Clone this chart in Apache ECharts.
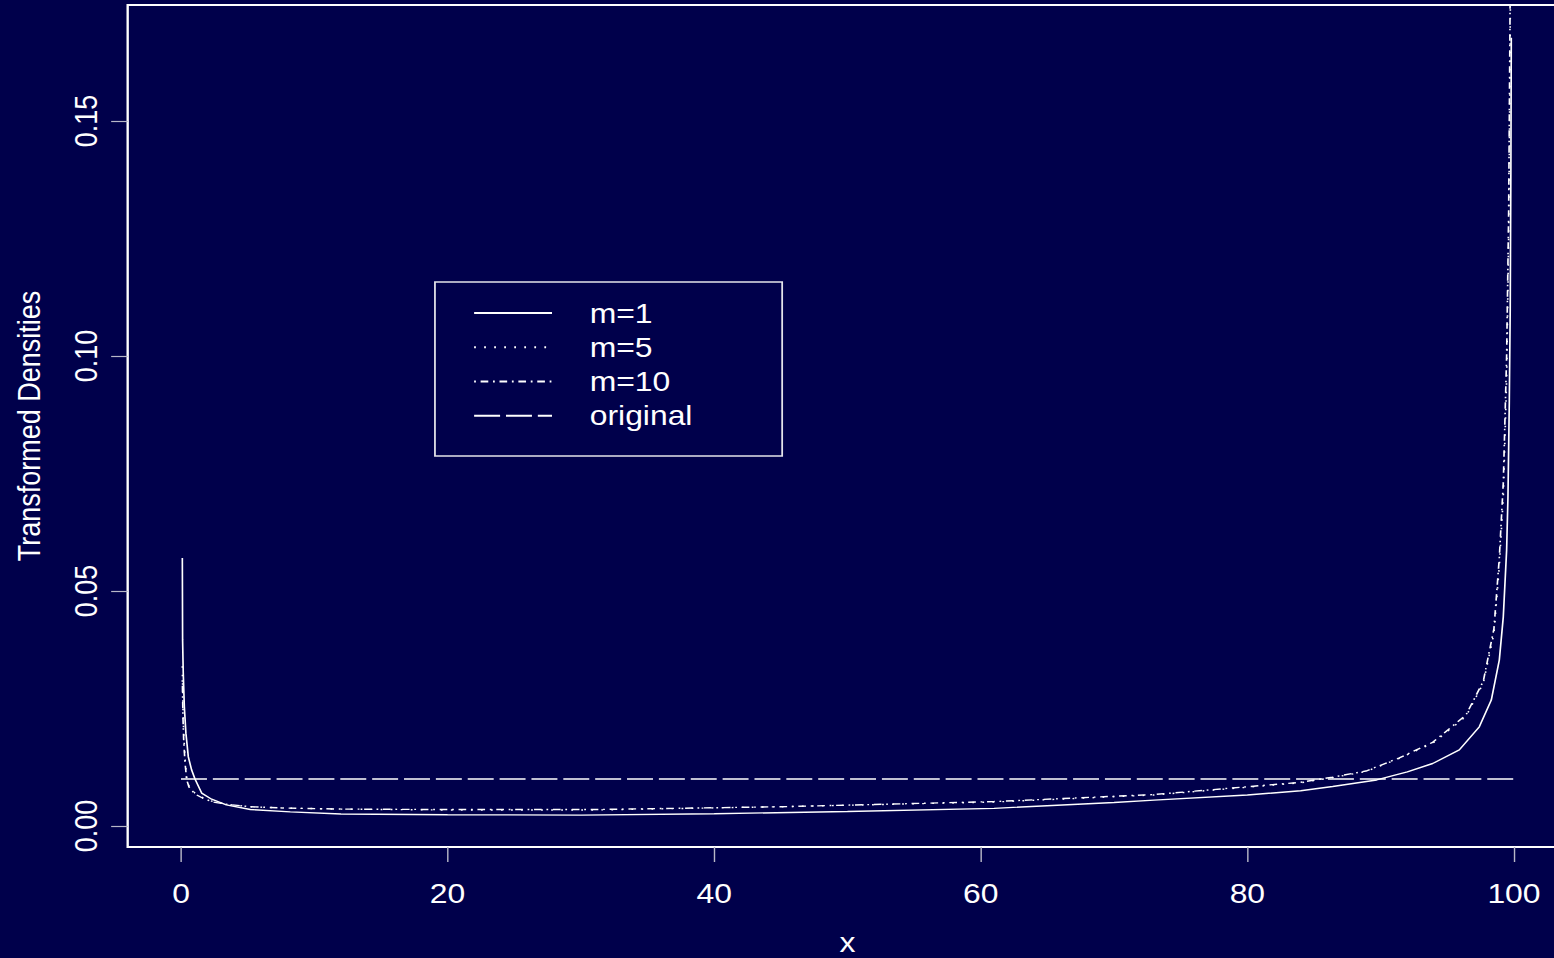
<!DOCTYPE html>
<html>
<head>
<meta charset="utf-8">
<title>Transformed Densities</title>
<script src="https://cdn.jsdelivr.net/npm/echarts@6/dist/echarts.min.js"></script>
<style>
  html, body { margin: 0; padding: 0; background: #00004b; overflow: hidden; width: 1554px; height: 958px; }
  /* the plot is laid out on a narrower canvas and widened horizontally;
     the plot frame runs past the right edge of the page */
  #chart { width: 1340px; height: 958px; transform: scaleX(1.18); transform-origin: 0 0; }
</style>
</head>
<body>
<div id="chart"></div>
<script>
// axis ticks
const xTicks = [0, 20, 40, 60, 80, 100];
const yTicks = [0, 0.05, 0.10, 0.15];

// legend / series names
const seriesNames = ['m=1', 'm=5', 'm=10', 'original'];

// m = 1 curve
const xM1 = [0.1, 0.12, 0.17, 0.25, 0.37, 0.55, 0.8, 1.05, 1.55, 2.3, 3.4, 5.2, 8.2, 12, 20, 30, 40, 50, 61, 70, 73, 80, 84, 86.4, 89.7, 92, 93.9, 95.9, 97.4, 98.3, 98.9, 99.2, 99.45, 99.55, 99.65, 99.72, 99.77, 99.8];
const yM1 = [0.0570, 0.0396, 0.0325, 0.0254, 0.0197, 0.0147, 0.0119, 0.0100, 0.0070, 0.0057, 0.0045, 0.0035, 0.0030, 0.00255, 0.0024, 0.00232, 0.0026, 0.0031, 0.00376, 0.0050, 0.0055, 0.0066, 0.0075, 0.0084, 0.0098, 0.0115, 0.0133, 0.0162, 0.0211, 0.0268, 0.0353, 0.0445, 0.0587, 0.070, 0.090, 0.110, 0.140, 0.1677];

// m = 5 and m = 10 curves share the same x grid
const xMulti = [0.1, 0.15, 0.2, 0.3, 0.43, 0.6, 1.05, 1.65, 2.4, 3.5, 5.2, 8, 12, 20, 31, 45, 61, 73, 84, 86.4, 88.9, 91.4, 93.9, 96.4, 97.7, 98.5, 98.9, 99.2, 99.45, 99.6, 99.7, 99.8];
const yM5 = [0.034, 0.025, 0.020, 0.0145, 0.0100, 0.0085, 0.0070, 0.0060, 0.0052, 0.0046, 0.0041, 0.0038, 0.0036, 0.0034, 0.0034, 0.0041, 0.0051, 0.0066, 0.0092, 0.0103, 0.0116, 0.0144, 0.0176, 0.0233, 0.0304, 0.041, 0.0552, 0.070, 0.095, 0.125, 0.16, 0.21];
const yM10 = [0.031, 0.023, 0.0185, 0.0135, 0.0098, 0.0083, 0.0068, 0.0059, 0.0051, 0.0046, 0.0041, 0.0038, 0.0036, 0.0035, 0.0035, 0.0041, 0.0052, 0.0067, 0.0093, 0.0104, 0.0117, 0.0145, 0.0178, 0.0236, 0.0308, 0.042, 0.057, 0.073, 0.10, 0.13, 0.17, 0.22];

// original (uniform) density
const xOrig = [0, 100];
const yOrig = [0.01, 0.01];

const zip = (xs, ys) => xs.map((x, i) => [x, ys[i]]);

const FONT = '"Liberation Sans", Arial, Helvetica, sans-serif';
const FG = '#ffffff';
const TICK = '#b8b8c8';

const chart = echarts.init(document.getElementById('chart'), null, { renderer: 'svg' });

function lineSeries(name, data, dash) {
  return {
    name: name,
    type: 'line',
    data: data,
    symbol: 'none',
    showSymbol: false,
    clip: true,
    animation: false,
    silent: true,
    lineStyle: { color: FG, width: 1.4, type: dash, cap: 'butt' },
    itemStyle: { color: FG }
  };
}

chart.setOption({
  backgroundColor: '#00004b',
  animation: false,
  textStyle: { fontFamily: FONT, color: FG },
  grid: {
    left: 108.2, top: 5, width: 1220, height: 842,
    show: true, borderColor: FG, borderWidth: 2, backgroundColor: 'transparent',
    containLabel: false,
    outerBoundsMode: 'none'
  },
  xAxis: {
    type: 'value',
    min: -4, max: 104,
    name: 'x',
    nameLocation: 'middle',
    nameGap: 82,
    nameTextStyle: { color: FG, fontSize: 27, fontFamily: FONT },
    axisLine: { show: false, onZero: false },
    splitLine: { show: false },
    axisTick: { show: true, inside: false, length: 15, customValues: xTicks, lineStyle: { color: TICK, width: 1.2 } },
    axisLabel: { customValues: xTicks, color: FG, fontSize: 27, fontFamily: FONT, margin: 33 }
  },
  yAxis: {
    type: 'value',
    min: -0.004468, max: 0.17468,
    name: 'Transformed Densities',
    nameLocation: 'middle',
    nameRotate: 90,
    nameGap: 70,
    nameTextStyle: { color: FG, fontSize: 27, fontFamily: FONT },
    axisLine: { show: false, onZero: false },
    splitLine: { show: false },
    axisTick: { show: true, inside: false, length: 14, customValues: yTicks, lineStyle: { color: TICK, width: 1.2 } },
    axisLabel: {
      customValues: yTicks, color: FG, fontSize: 27, fontFamily: FONT, rotate: 90, margin: 22,
      formatter: v => v.toFixed(2)
    }
  },
  legend: {
    data: seriesNames,
    orient: 'vertical',
    left: 368.6, top: 282,
    itemWidth: 66, itemHeight: 14, itemGap: 0,
    padding: [13.8, 76, 23, 32.2],
    borderColor: '#e4e4ea', borderWidth: 1.5,
    selectedMode: false,
    itemStyle: { opacity: 0, borderWidth: 0, color: 'transparent' },
    textStyle: { color: FG, fontSize: 27, fontFamily: FONT, lineHeight: 34.3, padding: [0, 0, 0, 27] }
  },
  series: [
    lineSeries('m=1', zip(xM1, yM1), 'solid'),
    lineSeries('m=5', zip(xMulti, yM5), [1.5, 7]),
    lineSeries('m=10', zip(xMulti, yM10), [1.5, 4, 6.5, 4]),
    lineSeries('original', zip(xOrig, yOrig), [22, 5])
  ]
});
</script>
</body>
</html>
